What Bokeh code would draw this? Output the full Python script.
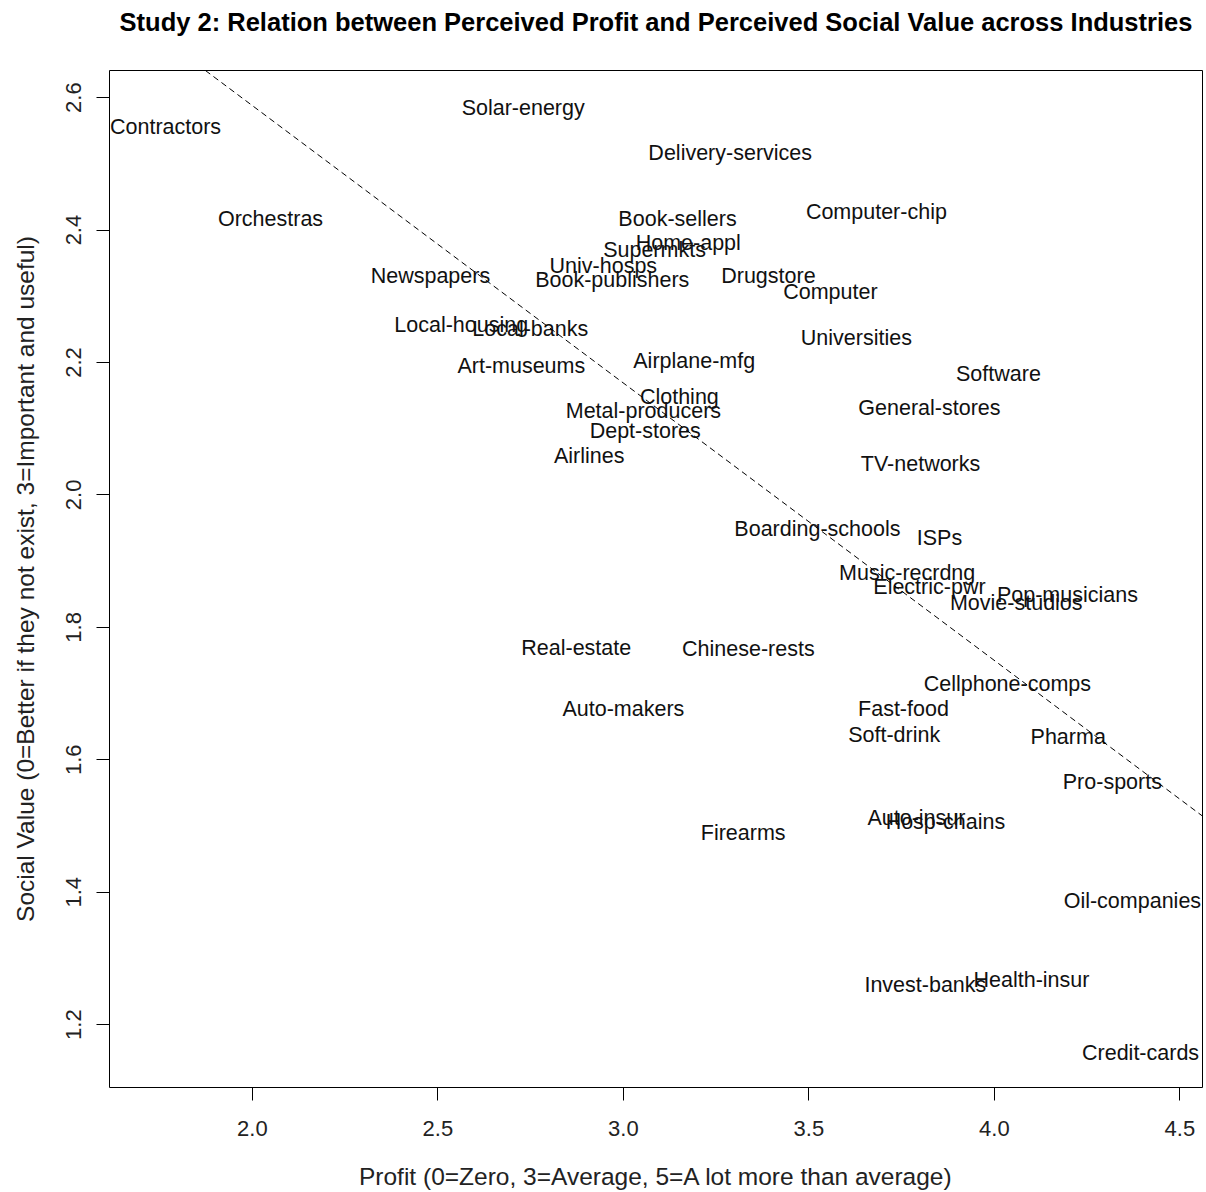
from bokeh.plotting import figure
from bokeh.models import ColumnDataSource, FixedTicker, Slope, Range1d, Title
from bokeh.core.properties import value
from bokeh.embed import file_html
from bokeh.resources import INLINE

industries = ["Solar-energy", "Contractors", "Delivery-services", "Orchestras", "Book-sellers",
              "Computer-chip", "Home-appl", "Supermkts", "Newspapers", "Univ-hosps",
              "Book-publishers", "Drugstore", "Computer", "Local-housing", "Local-banks",
              "Universities", "Art-museums", "Airplane-mfg", "Software", "Clothing",
              "Metal-producers", "General-stores", "Dept-stores", "Airlines", "TV-networks",
              "Boarding-schools", "ISPs", "Music-recrdng", "Electric-pwr", "Pop-musicians",
              "Movie-studios", "Real-estate", "Chinese-rests", "Cellphone-comps", "Auto-makers",
              "Fast-food", "Soft-drink", "Pharma", "Pro-sports", "Auto-insur",
              "Hosp-chains", "Firearms", "Oil-companies", "Invest-banks", "Health-insur",
              "Credit-cards"]
profit = [2.730, 1.766, 3.288, 2.049, 3.146,
          3.682, 3.175, 3.084, 2.480, 2.946,
          2.970, 3.391, 3.558, 2.563, 2.749,
          3.628, 2.725, 3.191, 4.011, 3.151,
          3.054, 3.825, 3.059, 2.908, 3.801,
          3.523, 3.852, 3.765, 3.825, 4.197,
          4.059, 2.873, 3.337, 4.035, 3.000,
          3.755, 3.730, 4.199, 4.318, 3.790,
          3.868, 3.323, 4.372, 3.814, 4.100,
          4.394]
social_value = [2.585, 2.555, 2.517, 2.417, 2.416,
                2.428, 2.381, 2.370, 2.331, 2.345,
                2.324, 2.331, 2.307, 2.256, 2.251,
                2.237, 2.195, 2.203, 2.182, 2.148,
                2.127, 2.132, 2.097, 2.059, 2.046,
                1.949, 1.935, 1.882, 1.861, 1.849,
                1.836, 1.769, 1.768, 1.715, 1.676,
                1.677, 1.638, 1.635, 1.567, 1.512,
                1.506, 1.490, 1.386, 1.260, 1.268,
                1.157]
fit_intercept = 3.426
fit_slope = -0.419
x_ticks = [2.0, 2.5, 3.0, 3.5, 4.0, 4.5]
y_ticks = [1.2, 1.4, 1.6, 1.8, 2.0, 2.2, 2.4, 2.6]
title_text = "Study 2: Relation between Perceived Profit and Perceived Social Value across Industries"

FONT = "Liberation Sans"
X_LO, X_HI = 1.615, 4.561
Y_LO, Y_HI = 1.105, 2.641

p = figure(frame_width=1093, frame_height=1017,
           min_border_left=109, min_border_right=2, min_border_top=70, min_border_bottom=103,
           x_range=Range1d(X_LO, X_HI), y_range=Range1d(Y_LO, Y_HI),
           output_backend="svg", toolbar_location=None, title=None)

p.outline_line_color = "black"
p.outline_line_width = 1
p.xgrid.visible = False
p.ygrid.visible = False
p.background_fill_color = "white"
p.border_fill_color = "white"

spacer = Title(text=" ", text_font=FONT, text_font_size="10px", standoff=22, align="center")
main_title = Title(text=title_text, text_font=FONT, text_font_size="25.5px",
                   text_font_style="bold", text_color="black", align="center", standoff=0)
p.add_layout(spacer, "above")
p.add_layout(main_title, "above")

src = ColumnDataSource(dict(x=profit, y=social_value, name=industries))
p.text(x="x", y="y", text="name", source=src, text_align="center", text_baseline="middle",
       text_font=value(FONT), text_font_size="21.5px", text_color="#111111")

p.add_layout(Slope(gradient=fit_slope, y_intercept=fit_intercept, line_color="black",
                   line_width=1, line_dash="6 4"))

for ax in (p.xaxis[0], p.yaxis[0]):
    ax.axis_line_color = None
    ax.major_tick_out = 13
    ax.major_tick_in = 0
    ax.minor_tick_line_color = None
    ax.major_tick_line_color = "black"
    ax.major_label_text_font = FONT
    ax.major_label_text_font_size = "22px"
    ax.major_label_text_color = "#222222"
    ax.axis_label_text_font = FONT
    ax.axis_label_text_font_size = "24.5px"
    ax.axis_label_text_font_style = "normal"
    ax.axis_label_text_color = "#222222"

p.xaxis.ticker = FixedTicker(ticks=x_ticks)
p.yaxis.ticker = FixedTicker(ticks=y_ticks)
p.xaxis.major_label_overrides = {t: f"{t:.1f}" for t in x_ticks}
p.yaxis.major_label_overrides = {t: f"{t:.1f}" for t in y_ticks}
p.xaxis.major_label_standoff = 20
p.yaxis.major_label_standoff = 15
p.yaxis.major_label_orientation = "vertical"
p.xaxis.axis_label = "Profit (0=Zero, 3=Average, 5=A lot more than average)"
p.yaxis.axis_label = "Social Value (0=Better if they not exist, 3=Important and useful)"
p.xaxis.axis_label_standoff = 24
p.yaxis.axis_label_standoff = 25

open("out.html", "w").write(file_html(p, INLINE))
